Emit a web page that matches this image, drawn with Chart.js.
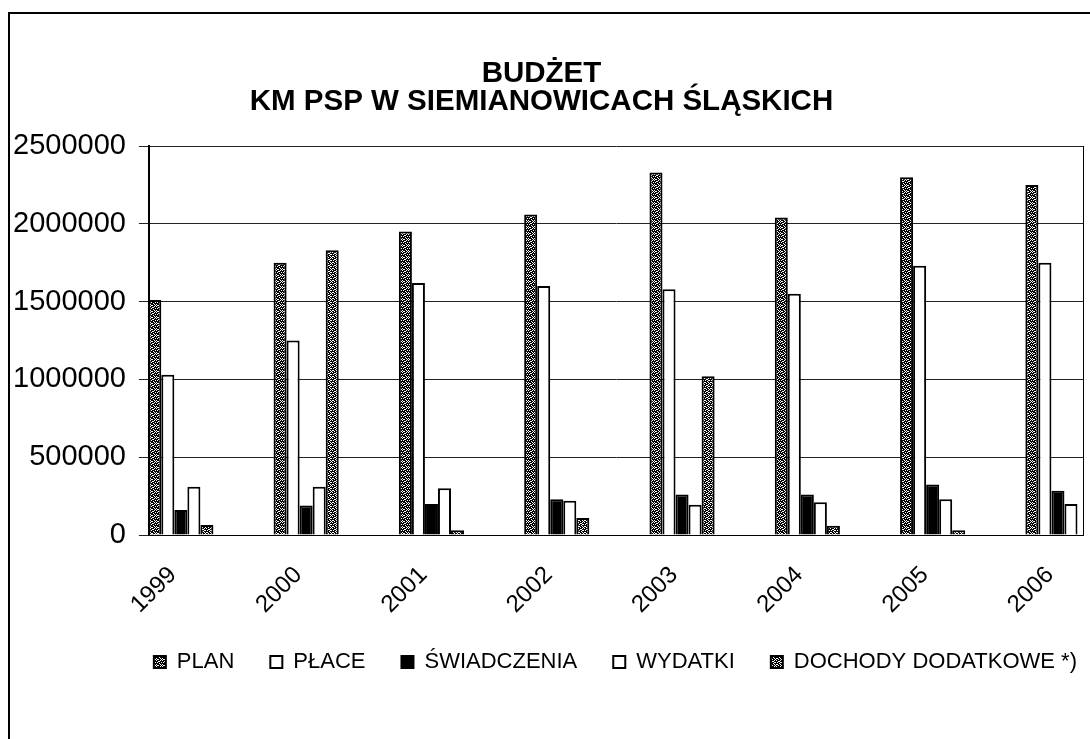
<!DOCTYPE html>
<html>
<head>
<meta charset="utf-8">
<script src="https://cdn.jsdelivr.net/npm/chart.js@4.4.0/dist/chart.umd.min.js"></script>
<style>
    body { margin: 0; background: #fff; overflow: hidden; }
    #wrap { position: relative; width: 1090px; height: 739px; }
    #frame {
        position: absolute; left: 8px; top: 12px; width: 1100px; height: 800px;
        border-left: 2px solid #000; border-top: 2px solid #000; pointer-events: none;
    }
</style>
</head>
<body>
<div id="wrap">
    <canvas id="budzetChart" width="1090" height="739"></canvas>
    <div id="frame"></div>
</div>
<script>
// lata i wartości
const years = ['1999', '2000', '2001', '2002', '2003', '2004', '2005', '2006'];
const plan = [1510000, 1750000, 1950000, 2060000, 2330000, 2040000, 2300000, 2250000];
const place = [1030000, 1250000, 1620000, 1600000, 1580000, 1550000, 1730000, 1750000];
const swiadczenia = [160000, 190000, 200000, 230000, 260000, 260000, 325000, 285000];
const wydatki = [310000, 310000, 300000, 220000, 195000, 210000, 230000, 200000];
const dochody = [65000, 1830000, 30000, 110000, 1020000, 60000, 30000, 0];
const yTicks = [0, 500000, 1000000, 1500000, 2000000, 2500000];

/**
 * deseń "kropkowany" jak w starym wydruku Excela
 */
function makePattern(dots) {
    const c = document.createElement('canvas');
    c.width = 6;
    c.height = 6;
    const g = c.getContext('2d');
    g.fillStyle = '#000';
    g.fillRect(0, 0, 6, 6);
    g.fillStyle = '#fff';
    dots.forEach(d => g.fillRect(d[0], d[1], 1, 1));
    return g.createPattern(c, 'repeat');
}

const planFill = makePattern([[0,0],[2,1],[4,0],[1,2],[5,2],[3,3],[0,4],[2,5],[4,4],[5,5],[1,5],[3,1]]);
const dochodyFill = makePattern([[0,0],[2,0],[4,1],[1,2],[3,2],[5,3],[0,4],[2,4],[4,5],[1,5],[5,1],[3,4],[0,2]]);

function toPoints(arr) {
    return arr.map((v, i) => ({ x: i, y: v }));
}

function makeSet(label, values, fill) {
    return {
        label: label,
        data: toPoints(values),
        backgroundColor: fill,
        borderColor: '#000',
        borderWidth: 2,
        borderSkipped: 'start'
    };
}

// legenda dosunięta do prawej krawędzi (bez końcowego odstępu)
const legendShift = {
    id: 'legendShift',
    afterLayout(chart) {
        chart.legend.left += 30;
        chart.legend.right += 30;
    }
};

const font = 'Arial, "Liberation Sans", sans-serif';

new Chart(document.getElementById('budzetChart'), {
    type: 'bar',
    data: {
        datasets: [
            makeSet('PLAN', plan, planFill),
            makeSet('PŁACE', place, '#fff'),
            makeSet('ŚWIADCZENIA', swiadczenia, '#000'),
            makeSet('WYDATKI', wydatki, '#fff'),
            makeSet('DOCHODY DODATKOWE *)', dochody, dochodyFill)
        ]
    },
    plugins: [legendShift],
    options: {
        responsive: false,
        animation: false,
        layout: { padding: { left: 0, right: 7, top: 0, bottom: 56 } },
        datasets: {
            bar: { categoryPercentage: 0.52, barPercentage: 1.0 }
        },
        scales: {
            x: {
                type: 'linear',
                offset: false,
                min: -0.255,
                max: 7.2,
                afterBuildTicks: scale => {
                    scale.ticks = years.map((y, i) => ({ value: i }));
                },
                afterFit: scale => {
                    // stała wysokość osi X, bez dodatkowego marginesu po prawej
                    scale.height = 80;
                    scale.paddingRight = 0;
                },
                ticks: {
                    autoSkip: false,
                    minRotation: 45,
                    maxRotation: 45,
                    padding: 18,
                    labelOffset: -8,
                    color: '#000',
                    font: { family: font, size: 24 },
                    callback: v => years[v]
                },
                grid: { display: false, offset: false },
                border: { display: true, color: '#000', width: 1 }
            },
            y: {
                min: 0,
                max: 2500000,
                afterBuildTicks: scale => {
                    scale.ticks = yTicks.map(v => ({ value: v }));
                },
                ticks: {
                    color: '#000',
                    padding: 13,
                    font: { family: font, size: 29 },
                    callback: v => String(v)
                },
                grid: { color: '#222', lineWidth: 1, tickLength: 10 },
                border: { display: true, color: '#000', width: 2 }
            },
            y2: {
                position: 'right',
                afterFit: scale => {
                    scale.width = 0;
                },
                grid: { display: false },
                ticks: { display: false },
                border: { display: true, color: '#000', width: 1 }
            }
        },
        plugins: {
            title: {
                display: true,
                text: ['BUDŻET', 'KM PSP W SIEMIANOWICACH ŚLĄSKICH'],
                color: '#000',
                font: { family: font, size: 29.5, weight: 'bold', lineHeight: 0.95 },
                padding: { top: 60, bottom: 30 }
            },
            legend: {
                position: 'bottom',
                align: 'end',
                labels: {
                    color: '#000',
                    boxWidth: 12,
                    boxHeight: 12,
                    padding: 36,
                    font: { family: font, size: 22 }
                }
            },
            tooltip: { enabled: false }
        }
    }
});
</script>
</body>
</html>
